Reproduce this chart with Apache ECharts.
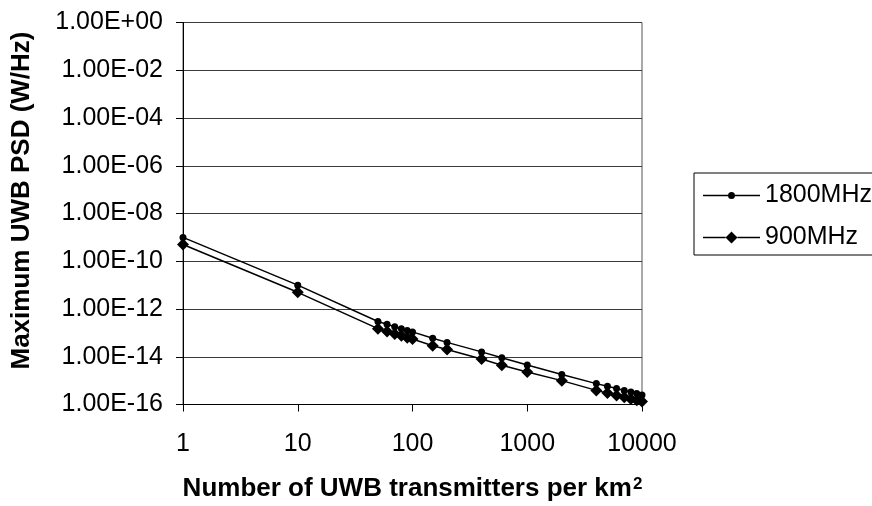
<!DOCTYPE html>
<html>
<head>
<meta charset="utf-8">
<script src="https://cdn.jsdelivr.net/npm/echarts@6/dist/echarts.min.js"></script>
<style>
  html, body { margin: 0; padding: 0; background: #ffffff; }
  #chart { width: 872px; height: 506px; }
</style>
</head>
<body>
<div id="chart"></div>
<script>
// Number of UWB transmitters per km^2
const transmitters = [1, 10, 50, 60, 70, 80, 90, 100, 150, 200, 400, 600, 1000, 2000, 4000, 5000, 6000, 7000, 8000, 9000, 10000];

// Maximum UWB PSD (W/Hz) for each victim band
const psd1800 = [1.0e-9, 1.0e-11, 3.0e-13, 2.3e-13, 1.8e-13, 1.5e-13, 1.25e-13, 1.1e-13, 6.0e-14, 4.0e-14, 1.6e-14, 9.0e-15, 4.5e-15, 1.8e-15, 7.5e-16, 5.8e-16, 4.7e-16, 3.9e-16, 3.3e-16, 2.9e-16, 2.5e-16];
const psd900 = [5.0e-10, 5.0e-12, 1.5e-13, 1.15e-13, 9.0e-14, 7.5e-14, 6.2e-14, 5.5e-14, 2.9e-14, 2.0e-14, 8.0e-15, 4.4e-15, 2.3e-15, 1.0e-15, 3.9e-16, 3.0e-16, 2.4e-16, 2.0e-16, 1.7e-16, 1.5e-16, 1.35e-16];

const seriesNames = ['1800MHz', '900MHz'];

// Tick labels, lowest first
const xTickLabels = ['1', '10', '100', '1000', '10000'];
const yTickLabels = ['1.00E-16', '1.00E-14', '1.00E-12', '1.00E-10', '1.00E-08', '1.00E-06', '1.00E-04', '1.00E-02', '1.00E+00'];

const FONT = '"Liberation Sans", Arial, sans-serif';

// Legend icons: short line with the series marker in the middle
const circleIcon = 'path://M0,2.75L25,2.75L25,4.25L0,4.25Z M32,2.75L57,2.75L57,4.25L32,4.25Z M25,3.5A3.5,3.5 0 1 0 32,3.5A3.5,3.5 0 1 0 25,3.5Z';
const diamondIcon = 'path://M0,5.25L22.5,5.25L22.5,6.75L0,6.75Z M34.5,5.25L57,5.25L57,6.75L34.5,6.75Z M28.5,0L34.5,6L28.5,12L22.5,6Z';

const chart = echarts.init(document.getElementById('chart'), null, { renderer: 'canvas' });

chart.setOption({
  animation: false,
  backgroundColor: '#ffffff',
  textStyle: { fontFamily: FONT, color: '#000' },
  grid: {
    left: 183, right: 230, top: 22.5, bottom: 101.5,
    outerBoundsMode: 'none', containLabel: false,
    show: true, borderColor: '#555', borderWidth: 1, backgroundColor: 'transparent'
  },
  legend: {
    orient: 'vertical',
    left: 694, top: 173,
    itemWidth: 57, itemHeight: 14, itemGap: 17,
    padding: [10, 10, 5, 9],
    borderColor: '#000', borderWidth: 1,
    textStyle: { fontFamily: FONT, fontSize: 25, color: '#000', lineHeight: 25 },
    data: [
      { name: seriesNames[0], icon: circleIcon },
      { name: seriesNames[1], icon: diamondIcon }
    ]
  },
  xAxis: {
    type: 'log', logBase: 10, min: 1, max: 10000, interval: 1,
    name: 'Number of UWB transmitters per km{sup|2}',
    nameLocation: 'middle', nameGap: 71,
    nameTextStyle: {
      fontFamily: FONT, fontSize: 26, fontWeight: 'bold', color: '#000',
      rich: { sup: { fontFamily: FONT, fontSize: 17, fontWeight: 'bold', color: '#000', verticalAlign: 'top', lineHeight: 17, padding: [0, 0, 14, 1] } }
    },
    axisLine: { show: true, lineStyle: { color: '#000', width: 1 } },
    axisTick: { show: true, length: 7, inside: false, lineStyle: { color: '#000' } },
    axisLabel: {
      fontFamily: FONT, fontSize: 25, color: '#000', margin: 27,
      formatter: v => xTickLabels[Math.round(Math.log10(v))]
    },
    splitLine: { show: false },
    minorTick: { show: false }
  },
  yAxis: {
    type: 'log', logBase: 10, min: 1e-16, max: 1, interval: 2,
    name: 'Maximum UWB PSD (W/Hz)',
    nameLocation: 'middle', nameGap: 148,
    nameTextStyle: { fontFamily: FONT, fontSize: 26, fontWeight: 'bold', color: '#000', padding: [0, 0, 0, 26] },
    axisLine: { show: true, lineStyle: { color: '#000', width: 1 } },
    axisTick: { show: true, length: 7, lineStyle: { color: '#000' } },
    axisLabel: {
      fontFamily: FONT, fontSize: 25, color: '#000', margin: 20,
      formatter: v => {
        const e = Math.round(Math.log10(v));
        return (e % 2 === 0) ? yTickLabels[(e + 16) / 2] : '';
      }
    },
    splitLine: { show: true, lineStyle: { color: '#3a3a3a', width: 1 } }
  },
  series: [
    {
      name: seriesNames[0], type: 'line',
      data: transmitters.map((x, i) => [x, psd1800[i]]),
      symbol: 'circle', symbolSize: 7,
      lineStyle: { color: '#000', width: 1.5 },
      itemStyle: { color: '#000' }
    },
    {
      name: seriesNames[1], type: 'line',
      data: transmitters.map((x, i) => [x, psd900[i]]),
      symbol: 'diamond', symbolSize: 12,
      lineStyle: { color: '#000', width: 1.5 },
      itemStyle: { color: '#000' }
    }
  ]
});
</script>
</body>
</html>
